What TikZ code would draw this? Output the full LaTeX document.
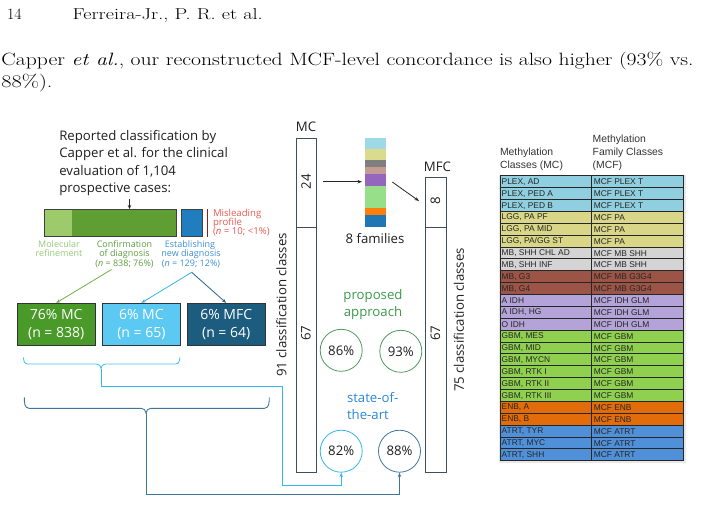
\documentclass[tikz,border=0pt]{standalone}
\usepackage{fontspec}
\usetikzlibrary{arrows.meta}
\newfontfamily\figfont{Open Sans}
\newfontfamily\tabfont{Liberation Sans}
\definecolor{cLG}{HTML}{9DCB6B}
\definecolor{cDG}{HTML}{5E9E32}
\definecolor{cBB}{HTML}{1F7DC0}
\definecolor{cRed}{HTML}{8B1E1E}
\definecolor{cRedT}{HTML}{E85A50}
\definecolor{tMol}{HTML}{95C978}
\definecolor{tConf}{HTML}{5E9E40}
\definecolor{tEst}{HTML}{3D8FD4}
\definecolor{bxG}{HTML}{4A9A2A}
\definecolor{bxL}{HTML}{5BC9F1}
\definecolor{bxD}{HTML}{1C5C7F}
\definecolor{arG}{HTML}{6DB043}
\definecolor{arL}{HTML}{35B5E8}
\definecolor{arD}{HTML}{2A6585}
\definecolor{brL}{HTML}{45C1F0}
\definecolor{brD}{HTML}{3F7696}
\definecolor{colE}{HTML}{3E4E5A}
\definecolor{prop}{HTML}{3B9A4B}
\definecolor{circG}{HTML}{4E9A5C}
\definecolor{sota}{HTML}{2D87D2}
\definecolor{f1}{HTML}{9EDAE5}
\definecolor{f2}{HTML}{DBDB8D}
\definecolor{f3}{HTML}{7F7F7F}
\definecolor{f4}{HTML}{C49C94}
\definecolor{f5}{HTML}{9467BD}
\definecolor{f6}{HTML}{98DF8A}
\definecolor{f7}{HTML}{FF7F0E}
\definecolor{f8}{HTML}{1F77B4}
\definecolor{tPlex}{HTML}{8FCFDF}
\definecolor{tPa}{HTML}{D9D787}
\definecolor{tShh}{HTML}{D4D4D4}
\definecolor{tG34}{HTML}{9C5446}
\definecolor{tIdh}{HTML}{B4A3D8}
\definecolor{tGbm}{HTML}{8FD14F}
\definecolor{tEnb}{HTML}{E36C0A}
\definecolor{tAtrt}{HTML}{5090D8}
\tikzset{
  txt/.style={inner sep=0pt, outer sep=0pt},
  fig/.style={txt, font=\figfont\fontsize{13.2}{15}\selectfont, text=black!88},
  small/.style={txt, font=\figfont\fontsize{9}{9.5}\selectfont, align=center},
  redt/.style={txt, anchor=base west, font=\figfont\fontsize{9.6}{9}\selectfont, text=cRedT},
  boxlbl/.style={draw=black!80, line width=0.6pt, minimum width=77.7pt, minimum height=42pt,
    align=center, text=white, inner sep=0pt, font=\figfont\fontsize{14}{17}\selectfont},
  colbox/.style={draw=colE, line width=0.8pt, inner sep=0pt},
  rot/.style={txt, rotate=90, font=\figfont\fontsize{13.2}{15}\selectfont, text=black!88},
  pct/.style={circle, line width=0.8pt, minimum size=42pt, inner sep=0pt,
    font=\figfont\fontsize{13.2}{15}\selectfont, text=black!88},
  tip/.style={-{Stealth[length=4.5pt,width=3.5pt]}, line width=0.8pt},
  tab/.style={txt, font=\tabfont\fontsize{8.4}{10}\selectfont, text=black!85, anchor=west},
  tabh/.style={txt, font=\tabfont\fontsize{10.4}{12}\selectfont, text=black!80, anchor=base west},
}
\begin{document}
\begin{tikzpicture}[x=1pt,y=-1pt]
\useasboundingbox (0,0) rectangle (702,519);
% page header and body text
\node[txt, anchor=base west, font=\fontsize{15.8}{19}\selectfont] (pg) at (7,20) {14};
\node[txt, anchor=base west, font=\fontsize{15.8}{19}\selectfont] (hd) at (72.7,20)
  {\resizebox{190pt}{\height}{Ferreira-Jr., P. R. et al.}};
\node[txt, anchor=base west, font=\fontsize{17.8}{21}\selectfont] (l1) at (1.5,66)
  {\resizebox{692pt}{\height}{Capper \textit{et al.}, our reconstructed MCF-level concordance is also higher (93\% vs.}};
\node[txt, anchor=base west, font=\fontsize{17.8}{21}\selectfont] (l2) at (1.5,87.5)
  {\resizebox{51pt}{\height}{88\%).}};

% reported classification text
\node[fig, anchor=base west] (r1) at (59.3,140) {Reported classification by};
\node[fig, anchor=base west] (r2) at (59.3,157.5) {Capper et al. for the clinical};
\node[fig, anchor=base west] (r3) at (59.3,175) {evaluation of 1,104};
\node[fig, anchor=base west] (r4) at (59.3,192) {prospective cases:};
\coordinate (a0) at (129.5,199);
\coordinate (a1) at (129.5,209);
\draw[tip, black!85, -{Stealth[length=4pt,width=3.5pt]}] (a0) -- (a1);

% bar
\fill[cLG] (44.3,209.3) rectangle (71.7,236.7);
\fill[cDG] (71.7,209.3) rectangle (176.7,236.7);
\draw[black!75, line width=0.7pt] (44.3,209.3) rectangle (176.7,236.7);
\draw[black!75, fill=cBB, line width=0.7pt] (181,209.3) rectangle (202.3,236.7);
\draw[cRed, line width=1.3pt] (207.5,209.3) -- (207.5,236.7);
\node[redt] (m1) at (213,216.5) {Misleading};
\node[redt] (m2) at (213,225.5) {profile};
\node[redt] (m3) at (213,234.5) {(\textit{n} = 10; <1\%)};

% labels under the bar
\node[small, text=tMol, anchor=base] (mol1) at (59,247) {Molecular};
\node[small, text=tMol, anchor=base] (mol2) at (59,256.5) {refinement};
\node[small, text=tConf, anchor=base] (cf1) at (124.5,247) {Confirmation};
\node[small, text=tConf, anchor=base] (cf2) at (124.5,256.5) {of diagnosis};
\node[small, text=tConf, anchor=base] (cf3) at (124.5,266) {(\textit{n} = 838; 76\%)};
\node[small, text=tEst, anchor=base] (es1) at (190,247) {Establishing};
\node[small, text=tEst, anchor=base] (es2) at (191,256.5) {new diagnosis};
\node[small, text=tEst, anchor=base] (es3) at (191,266) {(\textit{n} = 129; 12\%)};

% boxes
\node[boxlbl, fill=bxG] (b1) at (56.2,324.2) {76\% MC\\[1pt](n = 838)};
\node[boxlbl, fill=bxL] (b2) at (141.4,324.2) {6\% MC\\[1pt](n = 65)};
\node[boxlbl, fill=bxD] (b3) at (226.2,324.2) {6\% MFC\\[1pt](n = 64)};
\coordinate (s1) at (111.5,269.5);
\coordinate (s2) at (191.7,272.3);
\draw[tip, arG] (s1) -- (b1.north);
\draw[tip, arL] (s2) -- (b2.north);
\draw[tip, arD] (s2) -- (b3.north);

% MC column
\node[colbox, minimum width=20pt, minimum height=89pt, anchor=north west] (mc24) at (296,138) {};
\node[colbox, minimum width=20pt, minimum height=245pt, anchor=north west] (mc67) at (296,227) {};
\node[fig, anchor=base] (mclbl) at (306,131.7) {MC};
\node[rot] (n24) at (306,181.7) {24};
\node[rot] (n67a) at (306,333.3) {67};
\node[rot] (c91) at (281.5,305) {91 classification classes};

% families
\fill[f1] (365,137.7) rectangle (386,149);
\fill[f2] (365,149) rectangle (386,160);
\fill[f3] (365,160) rectangle (386,166.7);
\fill[f4] (365,166.7) rectangle (386,174.3);
\fill[f5] (365,174.3) rectangle (386,185.7);
\fill[f6] (365,185.7) rectangle (386,207.7);
\fill[f7] (365,207.7) rectangle (386,215.3);
\fill[f8] (365,215.3) rectangle (386,226.7);
\node[fig, anchor=base] (fam) at (375,243.3) {8 families};
\coordinate (p1) at (323,181.7);
\coordinate (p2) at (362,181.7);
\coordinate (p3) at (392.3,182);
\coordinate (p4) at (419,201);
\draw[tip, black!85] (p1) -- (p2);
\draw[tip, black!85] (p3) -- (p4);

% MFC column
\node[colbox, minimum width=21pt, minimum height=50pt, anchor=north west] (mfc8) at (425,177) {};
\node[colbox, minimum width=21pt, minimum height=245pt, anchor=north west] (mfc67) at (425,227) {};
\node[fig, anchor=base] (mfclbl) at (437.5,171.7) {MFC};
\node[rot] (n8) at (435.5,201) {8};
\node[rot] (n67b) at (435.5,333.3) {67};
\node[rot] (c75) at (459,320) {75 classification classes};

% proposed / state of the art
\node[fig, anchor=base, text=prop] (pr1) at (373,299.3) {proposed};
\node[fig, anchor=base, text=prop] (pr2) at (373,316.3) {approach};
\node[pct, draw=circG] (c86) at (341.2,350.3) {86\%};
\node[pct, draw=circG] (c93) at (400.8,351.3) {93\%};
\node[fig, anchor=base west, text=sota] (st1) at (347,402.3) {state-of-};
\node[fig, anchor=base west, text=sota] (st2) at (347,419.3) {the-art};
\node[pct, draw=arL] (c82) at (341.2,451.2) {82\%};
\node[pct, draw=brD] (c88) at (399.5,451.2) {88\%};

% braces and connectors
\draw[brL, line width=0.9pt] (23.3,357.5) to[out=-90,in=180] (27.5,364) -- (96.5,364)
  to[out=0,in=90] (101,368.5) to[out=90,in=180] (105.5,364) -- (175.8,364) to[out=0,in=-90] (180,357.5);
\coordinate (k1) at (101,368.5);
\draw[tip, arL] (k1) -- (101,386) -- (282.7,386) -- (282.7,485.7) -- (341.2,485.7) -- (c82.south);
\draw[brD, line width=0.9pt] (24.3,397.5) to[out=-90,in=180] (29,408.3) -- (141,408.3)
  to[out=0,in=90] (146,413) to[out=90,in=180] (151,408.3) -- (264.5,408.3) to[out=0,in=-90] (269.3,397.5);
\coordinate (k2) at (146,413);
\draw[tip, brD] (k2) -- (146,494.3) -- (399.5,494.3) -- (c88.south);

% table header
\node[tabh] (h1) at (500,155) {Methylation};
\node[tabh] (h2) at (500,168.3) {Classes (MC)};
\node[tabh] (h3) at (592.7,142.3) {Methylation};
\node[tabh] (h4) at (592.7,155) {Family Classes};
\node[tabh] (h5) at (592.7,168.3) {(MCF)};
% table rows
\fill[black!9] (498.5,174.5) rectangle (685.5,462.8);
\foreach \i/\a/\b/\c in {
  0/{PLEX, AD}/MCF PLEX T/tPlex, 1/{PLEX, PED A}/MCF PLEX T/tPlex, 2/{PLEX, PED B}/MCF PLEX T/tPlex,
  3/{LGG, PA PF}/MCF PA/tPa, 4/{LGG, PA MID}/MCF PA/tPa, 5/{LGG, PA/GG ST}/MCF PA/tPa,
  6/{MB, SHH CHL AD}/MCF MB SHH/tShh, 7/{MB, SHH INF}/MCF MB SHH/tShh,
  8/{MB, G3}/MCF MB G3G4/tG34, 9/{MB, G4}/MCF MB G3G4/tG34,
  10/A IDH/MCF IDH GLM/tIdh, 11/{A IDH, HG}/MCF IDH GLM/tIdh, 12/O IDH/MCF IDH GLM/tIdh,
  13/{GBM, MES}/MCF GBM/tGbm, 14/{GBM, MID}/MCF GBM/tGbm, 15/{GBM, MYCN}/MCF GBM/tGbm,
  16/{GBM, RTK I}/MCF GBM/tGbm, 17/{GBM, RTK II}/MCF GBM/tGbm, 18/{GBM, RTK III}/MCF GBM/tGbm,
  19/{ENB, A}/MCF ENB/tEnb, 20/{ENB, B}/MCF ENB/tEnb,
  21/{ATRT, TYR}/MCF ATRT/tAtrt, 22/{ATRT, MYC}/MCF ATRT/tAtrt, 23/{ATRT, SHH}/MCF ATRT/tAtrt}{
  \pgfmathsetmacro{\yt}{175.7+\i*11.875}
  \pgfmathsetmacro{\yb}{\yt+11.875}
  \pgfmathsetmacro{\ym}{\yt+6.2}
  \fill[\c] (500,\yt) rectangle (683,\yb);
  \node[tab] (ta\i) at (501.7,\ym) {\a};
  \node[tab] (tb\i) at (593.8,\ym) {\b};
}
\foreach \i in {1,...,23}{
  \pgfmathsetmacro{\yl}{175.7+\i*11.875}
  \draw[black!85, line width=0.7pt] (500,\yl) -- (683,\yl);
}
\draw[black!85, line width=0.8pt] (500,175.7) rectangle (683,460.7);
\draw[black!85, line width=0.7pt] (591.7,175.7) -- (591.7,460.7);
\end{tikzpicture}
\end{document}
